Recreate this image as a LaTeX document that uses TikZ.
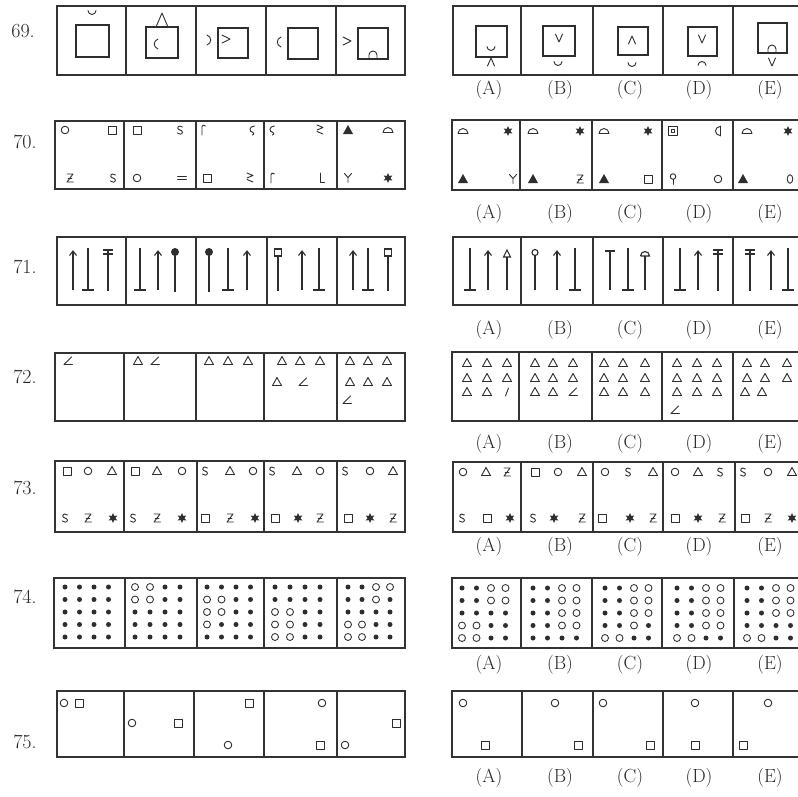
\documentclass[tikz,border=0pt]{standalone}
\begin{document}
\colorlet{ink}{black!82}
\tikzset{
 frame/.style={draw=black!80, line width=1.4pt},
 sym/.style={draw=ink, line width=0.9pt, line cap=round, line join=round},
 stick/.style={draw=ink, line width=1.1pt},
 sq69/.style={draw=ink, line width=1.4pt},
 lbl/.style={font=\fontsize{19}{21}\selectfont, text=black!85},
 num/.style={font=\fontsize{20}{22}\selectfont, text=black!85},
 pics/scup/.style={code={\draw[sym] (-4,-1.5) arc[start angle=180,end angle=0,radius=4];}},
 pics/scap/.style={code={\draw[sym] (-4,1.5) arc[start angle=180,end angle=360,radius=4];}},
 pics/scapleg/.style={code={\draw[sym] (-4,3) -- (-4,0) arc[start angle=180,end angle=360,radius=4] -- (4,3);}},
 pics/svee/.style={code={\draw[sym] (-3.5,-4) -- (0,4) -- (3.5,-4);}},
 pics/shat/.style={code={\draw[sym] (-3.5,4) -- (0,-4) -- (3.5,4);}},
 pics/sgt/.style={code={\draw[sym] (-4,-4) -- (4,0) -- (-4,4);}},
 pics/slparen/.style={code={\draw[sym] (2,-5) .. controls (-3,-3) and (-3,3) .. (2,5);}},
 pics/srparen/.style={code={\draw[sym] (-2,-5) .. controls (3,-3) and (3,3) .. (-2,5);}},
 pics/ssq/.style={code={\draw[sym] (-4,-4) rectangle (4,4);}},
 pics/scirc/.style={code={\draw[sym] (0,0) circle (3.8);}},
 pics/stri/.style={code={\draw[sym] (-4.5,3.5) -- (4.5,3.5) -- (0,-4.5) -- cycle;}},
 pics/strif/.style={code={\fill[ink] (-5,4) -- (5,4) -- (0,-5) -- cycle;}},
 pics/sstar/.style={code={\fill[ink] (90:5) -- (120:2.4) -- (150:5) -- (180:2.4) -- (210:5) -- (240:2.4) -- (270:5) -- (300:2.4) -- (330:5) -- (0:2.4) -- (30:5) -- (60:2.4) -- cycle;}},
 pics/sS/.style={code={\draw[sym] (2.5,-3) .. controls (1.5,-4.6) and (-2.6,-4.4) .. (-2.3,-1.6) .. controls (-2,0.2) and (2.4,-0.2) .. (2.4,2.2) .. controls (2.4,4.6) and (-1.5,4.8) .. (-2.6,3);}},
 pics/sZ/.style={code={\draw[sym] (-3,-4) -- (3,-4) -- (-3,4) -- (3.5,4); \draw[sym] (-1.8,0) -- (1.8,0);}},
 pics/sY/.style={code={\draw[sym] (-3.5,-4.5) -- (0,-0.5) -- (3.5,-4.5) (0,-0.5) -- (0,4.5);}},
 pics/sL/.style={code={\draw[sym] (-1.5,-5) -- (-1.5,4) -- (2.5,4);}},
 pics/seq/.style={code={\draw[sym] (-4.5,-1.8) -- (4.5,-1.8) (-4.5,1.8) -- (4.5,1.8);}},
 pics/sgeq/.style={code={\draw[sym] (-3,-5) -- (3,-2.5) -- (-3,0); \draw[sym] (-3,1.5) -- (3,4);}},
 pics/sgam/.style={code={\draw[sym] (-1,5) -- (-1,-3.5) .. controls (-1,-5) and (1,-5.5) .. (2.5,-4);}},
 pics/svsig/.style={code={\draw[sym] (2.5,-4) .. controls (-3,-4) and (-3.5,2) .. (1,2.5) .. controls (2.5,3) and (2,5) .. (0.5,5);}},
 pics/sdome/.style={code={\draw[sym] (-5,2.5) -- (5,2.5) arc[start angle=0,end angle=-180,radius=5];}},
 pics/sboxdot/.style={code={\draw[sym] (-4.5,-4.5) rectangle (4.5,4.5); \draw[sym] (-1.8,-1.8) rectangle (1.8,1.8);}},
 pics/sdhalf/.style={code={\draw[sym] (2,-5) -- (2,5); \draw[sym] (2,-4.5) arc[start angle=270,end angle=90,radius=4.5];}},
 pics/slolli/.style={code={\draw[sym] (0,-2.5) circle (2.8); \draw[sym] (0,0.3) -- (0,5.5);}},
 pics/szero/.style={code={\draw[sym] (0,0) ellipse (2.8 and 4.3);}},
 pics/sslash/.style={code={\draw[sym] (-1.5,4) -- (1.5,-4);}},
 pics/sang/.style={code={\draw[sym] (3.5,-4) -- (-4,3.5) -- (4.5,3.5);}},
 pics/sup/.style={code={\draw[stick] (0,-19) -- (0,20); \draw[stick] (-3.5,-14.5) -- (0,-19) -- (3.5,-14.5);}},
 pics/sbot/.style={code={\draw[stick] (0,-22) -- (0,20) (-6,20) -- (6,20);}},
 pics/sdbl/.style={code={\draw[stick] (-5,-20) -- (5,-20) (-5,-16) -- (5,-16) (0,-20) -- (0,21);}},
 pics/sball/.style={code={\fill[ink] (0,-18) circle (4); \draw[stick] (0,-18) -- (0,22);}},
 pics/ssqst/.style={code={\draw[stick] (-3.5,-21) rectangle (3.5,-14); \draw[stick] (0,-14) -- (0,21);}},
 pics/sTT/.style={code={\draw[stick] (-5,-19) -- (5,-19) (0,-19) -- (0,20);}},
 pics/starr/.style={code={\draw[stick] (-3.5,-13) -- (3.5,-13) -- (0,-20) -- cycle; \draw[stick] (0,-13) -- (0,20);}},
 pics/socst/.style={code={\draw[stick] (0,-17.5) circle (3); \draw[stick] (0,-14.5) -- (0,20);}},
 pics/sdomest/.style={code={\draw[stick] (-4.5,-14) -- (4.5,-14) arc[start angle=0,end angle=-180,radius=4.5]; \draw[stick] (0,-14) -- (0,20);}},
}
\newcommand\qframe[8]{\draw[frame] (#3,#1) rectangle (#8,#2);
 \foreach \xx in {#4,#5,#6,#7} {\draw[frame] (\xx,#1) -- (\xx,#2);}}
\newcommand\pl[2]{\foreach \px/\pn in {#2} {\pic at (\px,#1) {\pn};}}
\newcommand\dgrid[4]{\foreach \v [count=\i from 0] in {#4} {%
   \pgfmathsetmacro\gx{#1+#2*mod(\i,4)}%
   \pgfmathsetmacro\gy{#3+12.5*floor(\i/4)}%
   \ifnum\v=1 \fill[ink] (\gx,\gy) circle (2.5);%
   \else \draw[sym, line width=0.85pt] (\gx,\gy) circle (3.5);\fi}}
\begin{tikzpicture}[x=1pt,y=-1pt]
\useasboundingbox (0,0) rectangle (798,796);
\fill[white] (0,0) rectangle (798,796);
\clip (0,0) rectangle (798,796);
% frames
\qframe{6}{75}{57}{126}{196}{266}{336}{405}
\qframe{6}{75}{453}{521}{593}{663}{733}{803}
\qframe{121}{189}{55}{124}{196}{264}{337}{405}
\qframe{120}{190}{452}{520}{592}{662}{733}{803}
\qframe{237}{305}{57}{126}{196}{267}{337}{405}
\qframe{237}{305}{453}{521}{593}{663}{733}{803}
\qframe{353}{421}{55}{124}{196}{264}{337}{405}
\qframe{352}{421}{452}{519}{592}{662}{733}{803}
\qframe{461}{532}{55}{124}{197}{264}{337}{405}
\qframe{462}{532}{453}{521}{593}{663}{735}{803}
\qframe{578}{648}{54}{125}{197}{264}{337}{405}
\qframe{578}{648}{452}{521}{592}{662}{734}{803}
\qframe{691}{757}{57}{124}{194}{264}{337}{405}
\qframe{691}{757}{452}{522}{593}{663}{733}{803}
% row numbers
\node[num] (n69) at (23,31) {69.};
\node[num] (n70) at (25,142) {70.};
\node[num] (n71) at (25,267) {71.};
\node[num] (n72) at (25,377) {72.};
\node[num] (n73) at (25,488) {73.};
\node[num] (n74) at (25,597) {74.};
\node[num] (n75) at (25,742) {75.};
% option labels
\foreach \yy/\r in {90/a,214/b,330/c,444/d,547/e,665/f,778/g}{
 \foreach \xx/\l in {489/A,560/B,630/C,699/D,770/E}{
  \node[lbl] (lab\r\l) at (\xx,\yy) {(\l)};}}
% ---- 69 ----
\draw[sq69] (76,25) rectangle (109,57); \pic at (92,12) {scup};
\draw[sq69] (146,27) rectangle (178,58); \draw[sym] (156,27) -- (162,13) -- (168,27); \pic at (156,44) {slparen};
\draw[sq69] (218,28) rectangle (248,58); \pic at (226,39) {sgt}; \pic at (209,40) {srparen};
\draw[sq69] (288,28) rectangle (318,59); \pic at (279,42) {slparen};
\draw[sq69] (358,28) rectangle (388,59); \pic at (347,41) {sgt}; \pic at (373,55) {scapleg};
\draw[sq69] (476,26) rectangle (507,57); \pic at (491,48) {scup}; \pic at (491,62) {shat};
\draw[sq69] (543,26) rectangle (575,56); \pic at (559,38) {svee}; \pic at (558,63) {scup};
\draw[sq69] (618,27) rectangle (648,55); \pic at (632,40) {shat}; \pic at (632,64) {scup};
\draw[sq69] (688,27) rectangle (717,56); \pic at (702,39) {svee}; \pic at (702,64) {scap};
\draw[sq69] (758,23) rectangle (787,53); \pic at (772,49) {scapleg}; \pic at (772,62) {svee};
% ---- 70 ----
\pl{130}{65/scirc,112/ssq,137/ssq,180/sS,203/sgam,252/svsig,272/svsig,320/sgeq,348/strif,388/sdome}
\pl{178}{70/sZ,113/sS,137/scirc,182/seq,207/ssq,250/sgeq,272/sgam,322/sL,348/sY,388/sstar}
\pl{131}{463/sdome,508/sstar,533/sdome,580/sstar,604/sdome,648/sstar,673/sboxdot,718/sdhalf,747/sdome,788/sstar}
\pl{179}{463/strif,513/sY,533/strif,580/sZ,604/strif,648/ssq,673/slolli,718/scirc,743/strif,790/szero}
% ---- 71 ----
\pl{270}{73/sup,88/sbot,108/sdbl,140/sbot,158/sup,175/sball,209/sball,228/sbot,247/sup,278/ssqst,302/sup,319/sbot,353/sup,368/sbot,388/ssqst,470/sbot,488/sup,507/starr,535/socst,557/sup,575/sbot,610/sTT,628/sbot,645/sdomest,680/sbot,698/sup,718/sdbl,750/sdbl,771/sup,788/sbot}
% ---- 72 ----
\pl{361}{68/sang,138/stri,155/sang,209/stri,228/stri,248/stri,282/stri,300/stri,320/stri,350/stri,368/stri,387/stri}
\pl{382}{277/stri,303/sang,350/stri,368/stri,387/stri}
\pl{400}{347/sang}
\pl{363}{467/stri,487/stri,507/stri,535/stri,553/stri,573/stri,604/stri,623/stri,645/stri,677/stri,697/stri,717/stri,747/stri,765/stri,787/stri}
\pl{378}{467/stri,487/stri,507/stri,535/stri,553/stri,573/stri,604/stri,623/stri,645/stri,677/stri,697/stri,717/stri,747/stri,765/stri,787/stri}
\pl{392}{467/stri,487/stri,507/sslash,535/stri,553/stri,573/sang,604/stri,623/stri,645/stri,677/stri,697/stri,717/stri,745/stri,762/stri}
\pl{410}{675/sang}
% ---- 73 ----
\pl{471}{67/ssq,88/scirc,112/stri,135/ssq,157/stri,182/scirc,205/sS,230/stri,253/scirc,272/sS,297/stri,320/scirc,345/sS,370/scirc,393/stri}
\pl{518}{65/sS,88/sZ,113/sstar,133/sS,157/sZ,182/sstar,205/ssq,230/sZ,255/sstar,275/ssq,298/sstar,320/sZ,348/ssq,370/sstar,393/sZ}
\pl{472}{463/scirc,486/stri,507/sZ,535/ssq,558/scirc,582/stri,605/scirc,628/sS,653/stri,675/scirc,698/stri,720/sS,743/sS,768/scirc,792/stri}
\pl{518}{462/sS,487/ssq,510/sstar,533/sS,554/sstar,582/sZ,602/ssq,630/sstar,653/sZ,675/ssq,698/sstar,722/sZ,745/ssq,768/sZ,792/sstar}
% ---- 74 ----
\dgrid{65}{14.5}{587}{1,1,1,1,1,1,1,1,1,1,1,1,1,1,1,1,1,1,1,1}
\dgrid{135}{15}{587}{0,0,1,1,0,0,1,1,1,1,1,1,1,1,1,1,1,1,1,1}
\dgrid{207}{14.5}{587}{1,1,1,1,0,0,1,1,0,0,1,1,0,1,1,1,1,1,1,1}
\dgrid{275}{15}{587}{1,1,1,1,1,1,1,1,0,0,1,1,0,0,1,1,0,0,1,1}
\dgrid{348}{14}{587}{1,1,0,0,1,1,0,1,1,1,1,1,0,0,1,1,0,0,1,1}
\dgrid{462}{14.5}{588}{1,1,0,0,1,1,0,0,1,1,1,1,0,0,1,1,0,0,1,1}
\dgrid{533}{14.5}{588}{1,1,0,0,1,1,0,0,1,1,0,0,1,1,0,0,1,1,1,1}
\dgrid{605}{14.5}{588}{1,1,0,0,1,1,0,0,1,1,0,0,1,1,0,1,0,0,1,1}
\dgrid{677}{14.5}{588}{1,1,0,0,1,1,0,0,1,1,0,0,1,1,0,0,0,0,1,1}
\dgrid{747}{14.5}{588}{1,1,0,0,1,1,0,0,1,1,0,0,1,1,1,1,0,0,1,1}
% ---- 75 ----
\pl{703}{64/scirc,79/ssq,249/ssq,322/scirc,463/scirc,555/scirc,603/scirc,695/scirc,768/scirc}
\pl{723}{132/scirc,178/ssq,396/ssq}
\pl{745}{228/scirc,320/ssq,345/scirc,485/ssq,578/ssq,650/ssq,695/ssq,743/ssq}
\end{tikzpicture}
\end{document}
